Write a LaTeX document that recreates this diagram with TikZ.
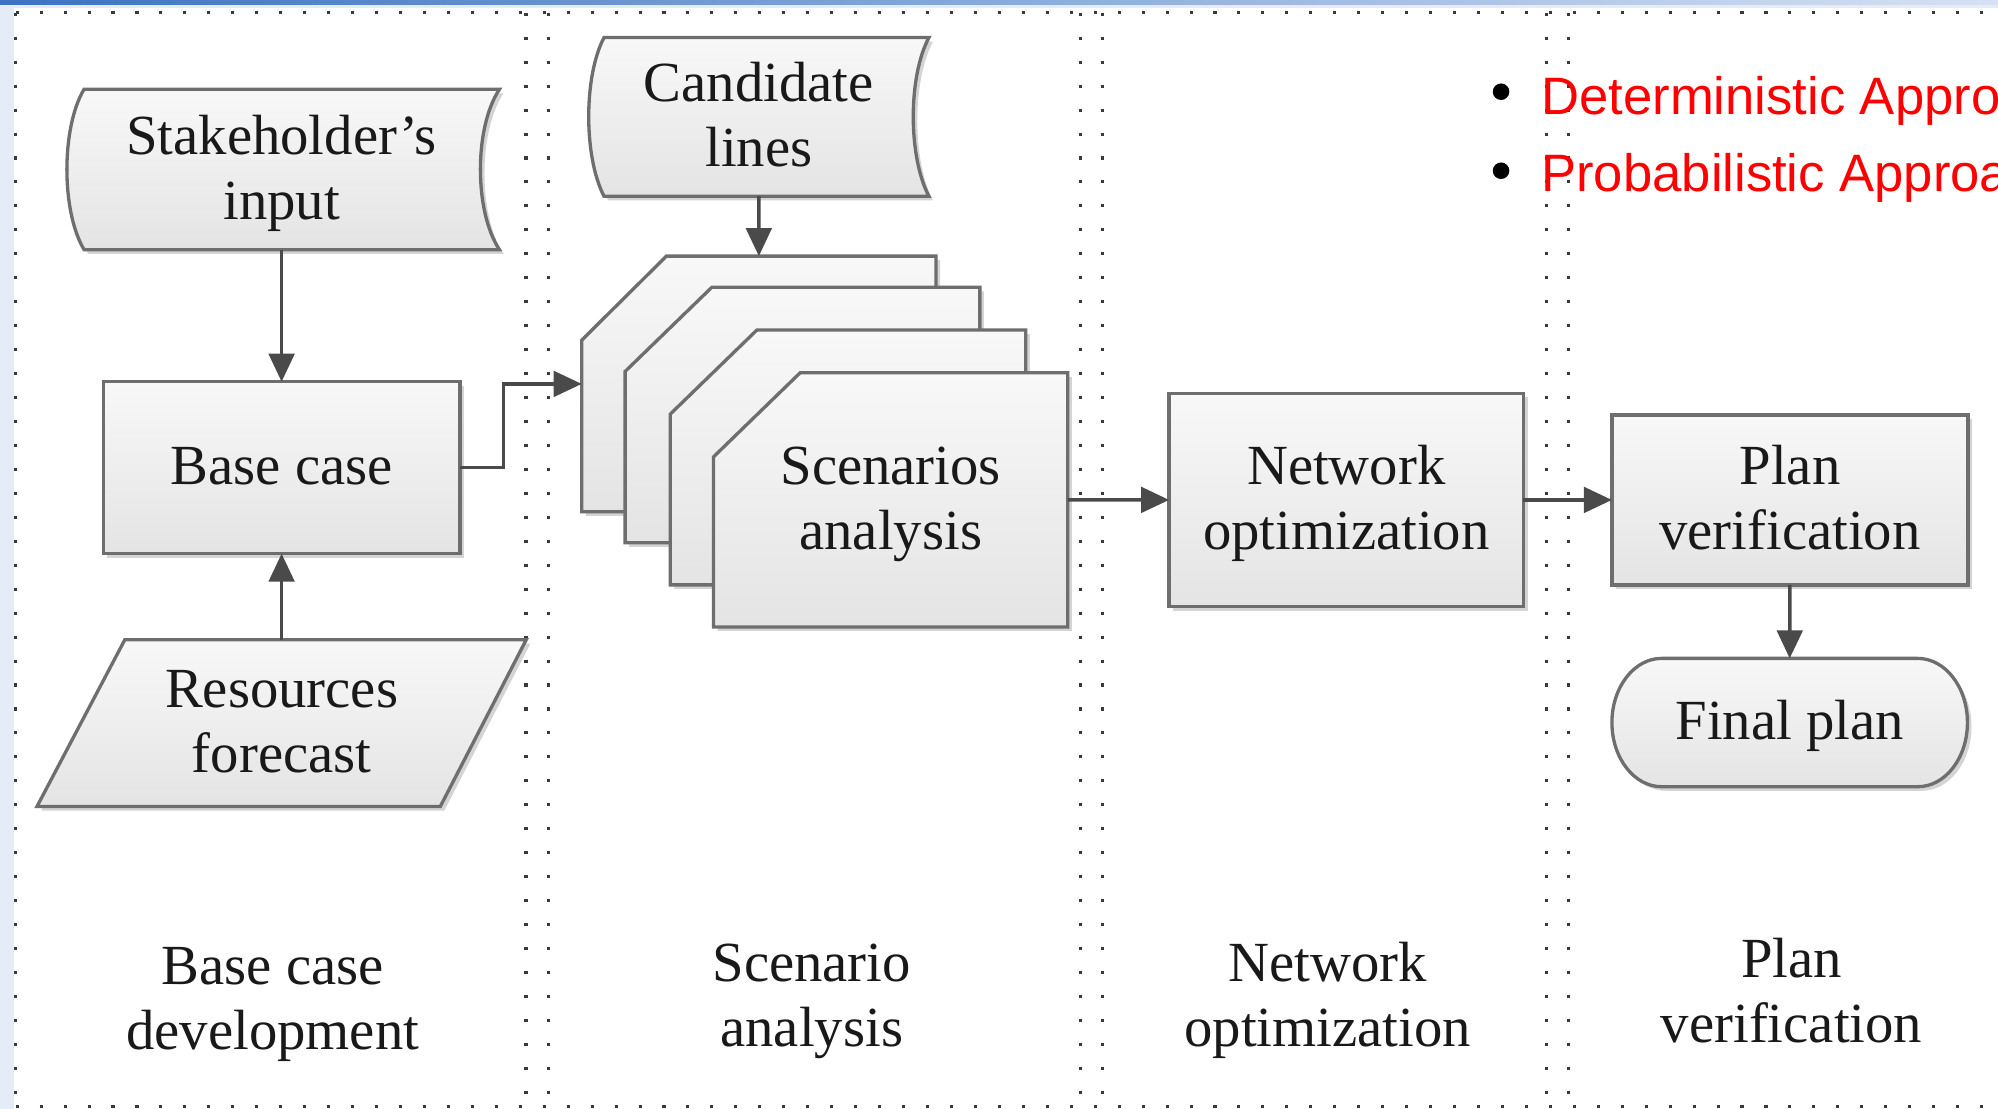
\documentclass[tikz,border=0pt]{standalone}
\usepackage{fontspec}
\setmainfont{Liberation Serif}
\newfontfamily\labelsans{Liberation Sans}
\usetikzlibrary{arrows.meta,shadows,calc}

\definecolor{edge}{HTML}{6E6E6E}
\definecolor{wire}{HTML}{4A4A4A}
\definecolor{dotc}{HTML}{3A3A3A}
\definecolor{barblue}{HTML}{3C73C2}
\definecolor{barlight}{HTML}{D6E1F3}
\definecolor{paleblue}{HTML}{E4ECF7}
\definecolor{fillTop}{HTML}{F8F8F8}
\definecolor{fillBot}{HTML}{E4E4E4}

% strut giving every text line the same height and depth
\newcommand{\ls}{\rule[-5pt]{0pt}{23.5pt}}

\begin{document}
\begin{tikzpicture}[x=0.5pt, y=-0.5pt,
  every node/.style={inner sep=0pt, outer sep=0pt},
  txt/.style={font=\fontsize{22.25pt}{25.5pt}\selectfont, align=center, text=black!90},
  shapebox/.style={top color=fillTop, bottom color=fillBot, draw=edge, line width=1.3pt,
     drop shadow={shadow xshift=1.6pt, shadow yshift=-1.6pt, opacity=0.3, fill=black!55}},
  rectbox/.style={txt, shapebox, rectangle},
  conn/.style={draw=wire, line width=1.4pt, -{Triangle[length=11pt,width=10pt]}},
  lane/.style={draw=dotc, line width=1.2pt, dash pattern=on 1.2pt off 8.2pt},
  redtext/.style={anchor=base west, text=red, font=\labelsans\fontsize{20.65pt}{25pt}\selectfont},
  bulletdot/.style={circle, fill=black, minimum size=6.5pt},
]
\useasboundingbox (0,0) rectangle (1568,870);
\clip (0,0) rectangle (1568,870);
\fill[white] (0,0) rectangle (1568,870);

% window edge
\fill[paleblue] (0,0) rectangle (11,870);
\fill[paleblue] (0,3.2) rectangle (1568,6.3);
\fill[left color=barblue, right color=barlight] (0,0) rectangle (1568,3.2);

% swimlane borders
\draw[lane] (12.3,10) -- (1568,10);
\draw[lane] (12.3,868) -- (1568,868);
\draw[lane] (12.3,10) -- (12.3,868);
\foreach \lx in {412.8,430.4,847.6,865,1213.8,1230.8}
  \draw[lane] (\lx,10) -- (\lx,868);

% outlines of the non-rectangular blocks
\path[shapebox] (66,70) -- (392,70) .. controls (372,100) and (372,166) .. (392,196)
  -- (66,196) .. controls (48,166) and (48,100) .. (66,70) -- cycle;
\path[shapebox] (474,29.5) -- (729,29.5) .. controls (712.6,60) and (712.6,123) .. (729,154)
  -- (474,154) .. controls (458,123) and (458,60) .. (474,29.5) -- cycle;
\path[shapebox] (98,502) -- (413,502) -- (345.5,633) -- (29,633) -- cycle;
% stacked scenario sheets, back to front
\path[shapebox] (456.5,267) -- (523,201) -- (734.6,201) -- (734.6,401.6) -- (456.5,401.6) -- cycle;
\path[shapebox] (490.6,291.5) -- (558.6,225.5) -- (769,225.5) -- (769,426) -- (490.6,426) -- cycle;
\path[shapebox] (526,325) -- (594,259) -- (805,259) -- (805,459) -- (526,459) -- cycle;
\path[shapebox] (560,358.5) -- (628,292.5) -- (838,292.5) -- (838,492) -- (560,492) -- cycle;
% terminator
\path[shapebox] (1304,516.7) -- (1505,516.7)
  .. controls (1526.5,516.7) and (1544,539.2) .. (1544,567.05)
  .. controls (1544,595) and (1526.5,617.4) .. (1505,617.4)
  -- (1304,617.4)
  .. controls (1282.5,617.4) and (1265,595) .. (1265,567.05)
  .. controls (1265,539.2) and (1282.5,516.7) .. (1304,516.7) -- cycle;

% blocks
\node[txt, minimum width=171pt, minimum height=63pt] (stake) at (221,133) {\ls Stakeholder's\\\ls input};
\node[txt, minimum width=133.5pt, minimum height=62.25pt] (cand) at (595.5,91.75) {\ls Candidate\\\ls lines};
\node[rectbox, minimum width=140pt, minimum height=67.45pt] (base) at (221,367.05) {\ls Base case};
\node[txt, minimum width=192pt, minimum height=65.5pt] (res) at (221,567.5) {\ls Resources\\\ls forecast};
\node[minimum width=139.05pt, minimum height=100.3pt] (scenA) at (595.55,301.3) {};
\node[txt, minimum width=139pt, minimum height=99.75pt] (scen) at (699,392.25) {\ls Scenarios\\\ls analysis};
\node[rectbox, minimum width=139.05pt, minimum height=83.65pt] (net) at (1056.55,392.35) {\ls Network\\\ls optimization};
\node[rectbox, minimum width=139.7pt, minimum height=66.65pt] (plan) at (1404.7,392.35) {\ls Plan\\\ls verification};
\node[txt, minimum width=139.5pt, minimum height=50.35pt] (final) at (1404.5,567.05) {\ls Final plan};

% stage labels
\node[txt] (labBase) at (214,785) {\ls Base case\\\ls development};
\node[txt] (labScen) at (637,782) {\ls Scenario\\\ls analysis};
\node[txt] (labNet) at (1042,782) {\ls Network\\\ls optimization};
\node[txt] (labPlan) at (1406,779.5) {\ls Plan\\\ls verification};

% approaches
\node[bulletdot] (bulA) at (1178,72) {};
\node[bulletdot] (bulB) at (1178,134) {};
\node[redtext] (det) at (1209.6,89.5) {Deterministic Approach};
\node[redtext] (prob) at (1209.6,150.4) {Probabilistic Approach};

% connectors
\draw[conn] (stake.south) -- (base.north);
\draw[conn] (res.north) -- (base.south);
\draw[conn] (base.east) -- ++(34,0) |- (scenA.west);
\draw[conn] (cand.south) -- (scenA.north);
\draw[conn] (scen.east) -- (net.west);
\draw[conn] (net.east) -- (plan.west);
\draw[conn] (plan.south) -- (final.north);
\end{tikzpicture}
\end{document}
